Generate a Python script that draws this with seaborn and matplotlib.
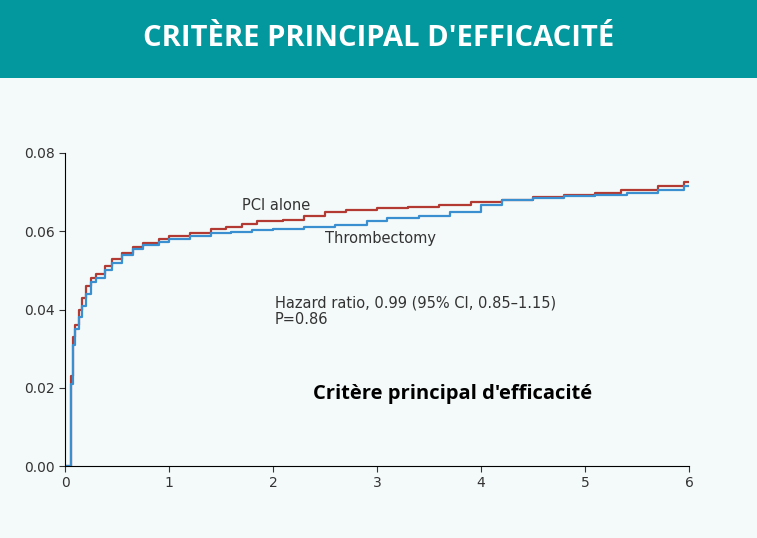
import matplotlib
matplotlib.use("Agg")
import matplotlib.pyplot as plt
import seaborn as sns
import pandas as pd

pci_t = [0, 0.04, 0.06, 0.08, 0.1, 0.13, 0.16, 0.2, 0.25, 0.3, 0.38, 0.45, 0.55, 0.65, 0.75, 0.9, 1.0, 1.2, 1.4, 1.55, 1.7, 1.85, 2.1, 2.3, 2.5, 2.7, 3.0, 3.3, 3.6, 3.9, 4.2, 4.5, 4.8, 5.1, 5.35, 5.7, 5.95, 6.0]
pci_v = [0, 0.0, 0.023, 0.033, 0.036, 0.040, 0.043, 0.046, 0.048, 0.049, 0.051, 0.053, 0.0545, 0.056, 0.057, 0.058, 0.0588, 0.0595, 0.0605, 0.061, 0.0618, 0.0625, 0.063, 0.064, 0.0648, 0.0655, 0.066, 0.0663, 0.0668, 0.0675, 0.068, 0.0688, 0.0692, 0.0698, 0.0705, 0.0715, 0.0725, 0.0725]
thr_t = [0, 0.04, 0.06, 0.08, 0.1, 0.13, 0.16, 0.2, 0.25, 0.3, 0.38, 0.45, 0.55, 0.65, 0.75, 0.9, 1.0, 1.2, 1.4, 1.6, 1.8, 2.0, 2.3, 2.6, 2.9, 3.1, 3.4, 3.7, 4.0, 4.2, 4.5, 4.8, 5.1, 5.4, 5.7, 5.95, 6.0]
thr_v = [0, 0.0, 0.021, 0.031, 0.035, 0.038, 0.041, 0.044, 0.047, 0.048, 0.050, 0.052, 0.054, 0.0555, 0.0565, 0.0572, 0.058, 0.0588, 0.0595, 0.0598, 0.0603, 0.0607, 0.061, 0.0615, 0.0625, 0.0635, 0.064, 0.065, 0.0668, 0.068, 0.0685, 0.069, 0.0693, 0.0698, 0.0705, 0.0715, 0.0715]
x_ticks = [0, 1, 2, 3, 4, 5, 6]
y_ticks = [0.00, 0.02, 0.04, 0.06, 0.08]

df = pd.concat([
    pd.DataFrame({"t": pci_t, "v": pci_v, "g": "PCI alone"}),
    pd.DataFrame({"t": thr_t, "v": thr_v, "g": "Thrombectomy"}),
])

bg = "#f4f9f9"
fig = plt.figure(figsize=(7.57, 5.38), dpi=100, facecolor=bg)
hdr = fig.add_axes([0, 1 - 78/538, 1, 78/538])
hdr.set_facecolor("#03989e")
hdr.set_xticks([]); hdr.set_yticks([])
for s in hdr.spines.values(): s.set_visible(False)
hdr.text(0.5, 0.5, "CRITÈRE PRINCIPAL D'EFFICACITÉ", color="white", fontsize=21,
         fontweight="bold", ha="center", va="center", family="Open Sans")

ax = fig.add_axes([65/757, 1 - 466/538, 624/757, 313/538])
ax.set_facecolor(bg)
sns.lineplot(data=df, x="t", y="v", hue="g", palette={"PCI alone": "#b23a33", "Thrombectomy": "#3a8fd0"},
             drawstyle="steps-post", linewidth=1.6, ax=ax, legend=False, estimator=None)
ax.set_xlim(0, 6); ax.set_ylim(0, 0.08)
ax.set_xticks(x_ticks); ax.set_yticks(y_ticks)
ax.set_yticklabels([f"{y:.2f}" for y in y_ticks])
ax.set_xlabel(""); ax.set_ylabel("")
for s in ["top", "right"]: ax.spines[s].set_visible(False)
ax.tick_params(labelsize=10, colors="#333333", direction="out", length=4)
ax.text(1.7, 0.0655, "PCI alone", fontsize=10.5, color="#333333")
ax.text(2.5, 0.0570, "Thrombectomy", fontsize=10.5, color="#333333")
ax.text(2.02, 0.0395, "Hazard ratio, 0.99 (95% CI, 0.85\u20131.15)\nP=0.86", fontsize=10.5,
        color="#333333", va="center", linespacing=1.1)
ax.text(2.38, 0.0170, "Critère principal d'efficacité", fontsize=14.5, fontweight="bold",
        color="black", family="Open Sans")
fig.savefig("out.png", dpi=100, facecolor=bg)
